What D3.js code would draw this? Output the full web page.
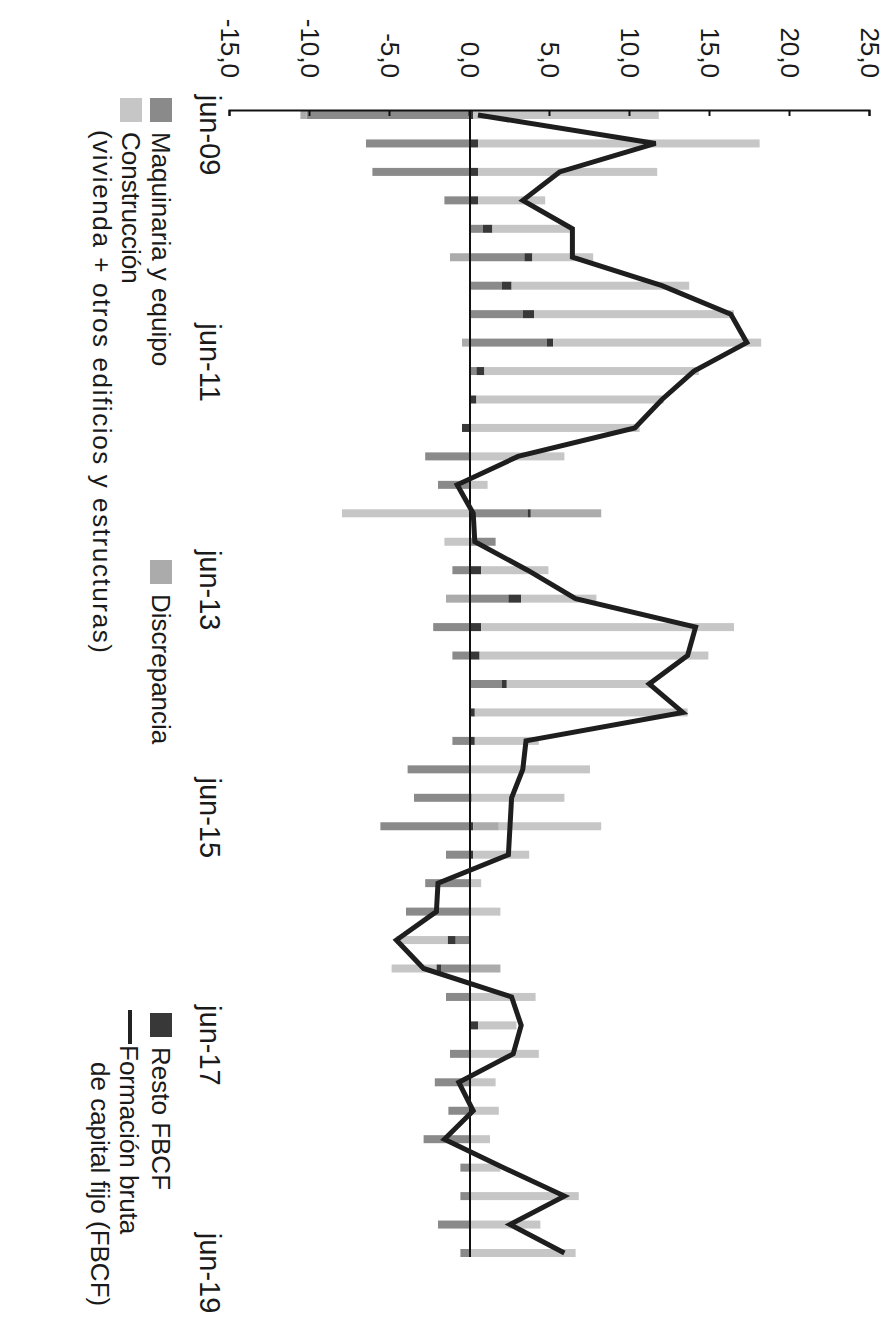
<!DOCTYPE html>
<html>
<head>
<meta charset="utf-8">
<script src="https://cdn.jsdelivr.net/npm/d3@7/dist/d3.min.js"></script>
<style>
  html, body { margin: 0; padding: 0; background: #fff; }
  svg { display: block; }
  text { font-family: "Liberation Sans", Arial, sans-serif; fill: #1a1a1a; }
</style>
</head>
<body>
<svg id="chart" width="892" height="1322"></svg>
<script>
// ---------------- DATA ----------------
const categories = [
  "jun-09","sep-09","dic-09","mar-10","jun-10","sep-10","dic-10","mar-11","jun-11","sep-11","dic-11",
  "mar-12","jun-12","sep-12","dic-12","mar-13","jun-13","sep-13","dic-13","mar-14","jun-14","sep-14",
  "dic-14","mar-15","jun-15","sep-15","dic-15","mar-16","jun-16","sep-16","dic-16","mar-17","jun-17",
  "sep-17","dic-17","mar-18","jun-18","sep-18","dic-18","mar-19","jun-19"
];
const tickLabels = ["jun-09","jun-11","jun-13","jun-15","jun-17","jun-19"];
const valueTicks = [-15, -10, -5, 0, 5, 10, 15, 20, 25];

const maquinaria = [-10.2,-6.5,-6.1,-1.6,0.8,3.4,2.0,3.3,4.8,0.4,0.0,0.0,-2.8,-2.0,3.6,1.6,-1.1,2.4,-2.3,-1.1,2.0,0.0,-1.1,-3.9,-3.5,-5.6,-1.5,-2.8,-4.0,-0.9,-1.8,-1.5,0.0,-1.25,-2.2,-1.35,-2.9,-0.6,-0.6,-2.0,-0.6];
const restoFBCF  = [0.2,0.5,0.5,0.5,0.6,0.5,0.6,0.7,0.4,0.5,0.4,-0.5,0.0,0.0,0.2,0.0,0.7,0.8,0.7,0.6,0.3,0.3,0.3,0.0,0.1,0.2,0.2,0.0,0.0,-0.5,-0.3,0.0,0.5,0.0,0.0,0.0,0.0,0.0,0.0,0.0,0.0];
const discrepancia = [-0.4,0.0,0.0,0.0,0.0,-1.25,0.0,0.0,-0.5,0.0,0.0,0.0,0.0,0.0,4.4,0.0,0.0,-1.5,0.0,0.0,0.0,0.0,0.0,0.0,0.0,1.6,0.0,0.0,0.0,0.0,1.9,0.0,0.0,0.0,0.0,0.0,0.0,0.0,0.0,0.0,0.0];
const construccion = [11.6,17.6,11.2,4.2,4.9,3.8,11.1,12.5,13.0,13.4,11.7,10.6,5.9,1.1,-8.0,-1.6,4.2,4.7,15.8,14.3,9.2,13.3,4.0,7.5,5.8,6.4,3.5,0.7,1.9,-3.2,-2.8,4.1,2.4,4.3,1.6,1.8,1.25,1.9,6.8,4.4,6.6];
const fbcf = [0.5,11.6,5.6,3.3,6.4,6.4,12.0,16.3,17.3,14.0,12.0,10.3,3.0,-0.8,0.2,0.3,3.6,6.6,14.1,13.6,11.2,13.3,3.5,3.3,2.6,2.5,2.4,-2.0,-2.1,-4.6,-2.9,2.6,3.2,2.7,-0.7,0.2,-1.6,2.1,5.9,2.5,5.9];

const seriesKeys = ["maquinaria","resto","discrepancia","construccion"];
const colors = {
  maquinaria: "#8a8a8a",
  resto: "#383838",
  discrepancia: "#ababab",
  construccion: "#c6c6c6"
};

// ---------------- BUILD ----------------
const rows = categories.map((c, i) => ({
  cat: c,
  maquinaria: maquinaria[i],
  resto: restoFBCF[i],
  discrepancia: discrepancia[i],
  construccion: construccion[i],
  fbcf: fbcf[i]
}));

const svg = d3.select("#chart");
// Chart is drawn in landscape and rotated 90deg clockwise on the page.
const H = 892;
const g = svg.append("g").attr("transform", `translate(${H},0) rotate(90)`);

const y = d3.scaleLinear().domain([-15, 25]).range([662, 22]);
const x = d3.scalePoint().domain(categories).range([115, 1253]);
const barW = 8;
const axisU = 110;

const stacked = d3.stack().keys(seriesKeys).offset(d3.stackOffsetDiverging)(rows);

// bars
g.append("g").selectAll("g")
  .data(stacked)
  .join("g")
  .attr("fill", d => colors[d.key])
  .selectAll("rect")
  .data(d => d)
  .join("rect")
  .attr("x", d => x(d.data.cat) - barW / 2)
  .attr("width", barW)
  .attr("y", d => y(Math.max(d[0], d[1])))
  .attr("height", d => Math.abs(y(d[0]) - y(d[1])));

// zero line (time axis)
g.append("line")
  .attr("x1", axisU).attr("x2", 1257)
  .attr("y1", y(0)).attr("y2", y(0))
  .attr("stroke", "#111").attr("stroke-width", 2);

// value axis
const locale = d3.formatLocale({decimal: ",", thousands: ".", grouping: [3], currency: ["", ""], minus: "-"});
const fmt = locale.format(".1f");
const yAxis = d3.axisLeft(y).tickValues(valueTicks).tickFormat(fmt)
  .tickSizeInner(-6).tickSizeOuter(-6).tickPadding(32);
const ag = g.append("g").attr("transform", `translate(${axisU},0)`).call(yAxis);
ag.select(".domain").attr("stroke", "#111").attr("stroke-width", 2);
ag.selectAll(".tick line").attr("stroke", "#111").attr("stroke-width", 2);
ag.selectAll(".tick text").attr("font-size", 26).attr("fill", "#1a1a1a")
  .attr("font-family", "Liberation Sans, Arial, sans-serif");

// FBCF line
const line = d3.line().x(d => x(d.cat)).y(d => y(d.fbcf));
g.append("path").datum(rows)
  .attr("d", line)
  .attr("fill", "none")
  .attr("stroke", "#1e1e1e")
  .attr("stroke-width", 5)
  .attr("stroke-linejoin", "miter");

// time labels
g.append("g").selectAll("text")
  .data(tickLabels)
  .join("text")
  .attr("x", d => x(d) + 20)
  .attr("y", 692)
  .attr("text-anchor", "middle")
  .attr("font-size", 29)
  .text(d => d);

// legend
const legendItems = [
  {key: "maquinaria", u: 98, v: 720, lines: ["Maquinaria y equipo"]},
  {key: "construccion", u: 98, v: 750, lines: ["Construcción", "(vivienda + otros edificios y estructuras)"]},
  {key: "discrepancia", u: 560, v: 720, lines: ["Discrepancia"]},
  {key: "resto", u: 1013, v: 720, lines: ["Resto FBCF"]}
];
const leg = g.append("g");
legendItems.forEach(b => {
  leg.append("rect").attr("x", b.u).attr("y", b.v).attr("width", 24).attr("height", 22)
    .attr("fill", colors[b.key]);
  b.lines.forEach((t, k) => {
    leg.append("text").attr("x", b.u + 34 + (k ? -2 : 0)).attr("y", b.v + 20 + k * 29)
      .attr("font-size", 26)
      .attr("letter-spacing", k ? 1.6 : 0)
      .text(t);
  });
});
leg.append("line").attr("x1", 1010).attr("x2", 1044).attr("y1", 762).attr("y2", 762)
  .attr("stroke", "#222").attr("stroke-width", 4);
leg.append("text").attr("x", 1045).attr("y", 772).attr("font-size", 26).text("Formación bruta");
leg.append("text").attr("x", 1062).attr("y", 801).attr("font-size", 26).text("de capital fijo (FBCF)");
</script>
</body>
</html>
